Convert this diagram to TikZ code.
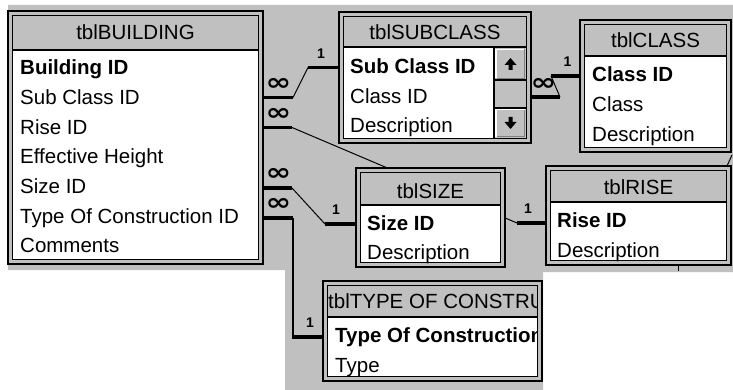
\documentclass[tikz,border=0pt]{standalone}
\usepackage{fontspec}
\setmainfont{Liberation Sans}
\newfontfamily\symfont{DejaVu Sans}
\usetikzlibrary{fit}
\definecolor{panelgray}{HTML}{C0C0C0}
\definecolor{shadegray}{HTML}{808080}

\tikzset{
  outerframe/.style={draw=black, line width=1.8pt, fill=panelgray, inner sep=0pt},
  innerframe/.style={draw=black, line width=1.4pt, fill=white},
  titlebar/.style={draw=black, line width=1.4pt, fill=panelgray},
  fieldtext/.style={anchor=base west, inner sep=0pt, font=\fontsize{20.5}{24}\selectfont},
  keytext/.style={anchor=base west, inner sep=0pt, font=\fontsize{20.5}{24}\selectfont\bfseries},
  titletext/.style={anchor=base, inner sep=0pt, font=\fontsize{20.5}{24}\selectfont},
  manyend/.style={inner sep=0pt, font=\symfont\bfseries\fontsize{28}{28}\selectfont, xscale=1.1, yscale=0.85},
  oneend/.style={inner sep=0pt, font=\bfseries\fontsize{14}{14}\selectfont},
  stub/.style={line width=3.6pt},
  link/.style={line width=1pt},
  btnlight/.style={draw=white, line width=1.2pt},
  btndark/.style={draw=shadegray, line width=1.2pt},
}

% table frame: name, left, top, right, bottom, bottom of the title bar
\newcommand\tablebox[6]{%
  \node[outerframe, fit={(#2,#3) (#4,#5)}] (#1) {};
  \draw[innerframe] (#2+4.5,#3+4.5) rectangle (#4-4.5,#5-4.5);
  \draw[titlebar] (#2+4.5,#3+4.5) rectangle (#4-4.5,#6);
}

\begin{document}
\begin{tikzpicture}[x=1pt,y=-1pt]
\useasboundingbox (0,0) rectangle (733,390);
\fill[white] (0,0) rectangle (733,390);
% workspace background
\fill[panelgray] (8,5) -- (733,5) -- (733,272) -- (543,272) -- (543,390)
  -- (285,390) -- (285,270) -- (8,270) -- cycle;

% connector bend points
\coordinate (k1) at (293,97.5);  \coordinate (k2) at (308,67.5);
\coordinate (k3) at (292,127.5); \coordinate (k4) at (517,223);
\coordinate (k5) at (292,188);   \coordinate (k6) at (325,224);
\coordinate (k7) at (293,218);   \coordinate (k8) at (293,337);
\coordinate (k9) at (560,97);    \coordinate (k10) at (551,76);
\coordinate (x1) at (727,166);   \coordinate (x2) at (732,155);
\coordinate (x3) at (678,265);   \coordinate (x4) at (678,271);

% thin links run underneath the tables
\draw[link] (k3) -- (k4);
\draw[link] (x1) -- (x2);
\draw[link] (x3) -- (x4);

% tables
\tablebox{bld}{8}{11}{263}{264}{50}
\node[titletext] (bld-t) at (135.5,40) {tblBUILDING};
\node[keytext]   (bld-r1) at (20,75)    {Building ID};
\node[fieldtext] (bld-r2) at (20,104.6) {Sub Class ID};
\node[fieldtext] (bld-r3) at (20,134.2) {Rise ID};
\node[fieldtext] (bld-r4) at (20,163.8) {Effective Height};
\node[fieldtext] (bld-r5) at (20,193.4) {Size ID};
\node[fieldtext] (bld-r6) at (20,223)   {Type Of Construction ID};
\node[fieldtext] (bld-r7) at (20,252.6) {Comments};

\tablebox{sub}{339}{12}{531}{143}{47}
\node[titletext] (sub-t) at (435,40) {tblSUBCLASS};
\node[keytext]   (sub-r1) at (350,74)  {Sub Class ID};
\node[fieldtext] (sub-r2) at (350,104) {Class ID};
\node[fieldtext] (sub-r3) at (350,133) {Description};
% scroll bar
\fill[panelgray] (494,47.7) rectangle (526,138.3);
\draw[line width=1.2pt] (494,47.7) -- (494,138.3);
\draw[line width=1.2pt] (494,80) -- (526,80);
\draw[line width=1.2pt] (494,108) -- (526,108);
\draw[btnlight] (496,78) -- (496,49.5) -- (524.5,49.5);
\draw[btndark] (496.5,78.3) -- (524.5,78.3) -- (524.5,49.5);
\draw[btnlight] (496,137) -- (496,109.7) -- (524.5,109.7);
\draw[btndark] (496.5,136.8) -- (524.5,136.8) -- (524.5,109.7);
\fill (504.5,65) -- (510.5,58) -- (516.5,65) -- (512.5,65) -- (512.5,70)
  -- (508.5,70) -- (508.5,65) -- cycle;
\fill (504.5,122) -- (510.5,129) -- (516.5,122) -- (512.5,122) -- (512.5,117)
  -- (508.5,117) -- (508.5,122) -- cycle;

\tablebox{cls}{580}{20}{731}{152}{56}
\node[titletext] (cls-t) at (655.5,48) {tblCLASS};
\node[keytext]   (cls-r1) at (592,82)  {Class ID};
\node[fieldtext] (cls-r2) at (592,112) {Class};
\node[fieldtext] (cls-r3) at (592,142) {Description};

\tablebox{siz}{356}{168}{505}{267}{205}
\node[titletext] (siz-t) at (430.5,198) {tblSIZE};
\node[keytext]   (siz-r1) at (367,230) {Size ID};
\node[fieldtext] (siz-r2) at (367,259) {Description};

\tablebox{ris}{546}{166}{731}{265}{202}
\node[titletext] (ris-t) at (638.5,195) {tblRISE};
\node[keytext]   (ris-r1) at (557,227) {Rise ID};
\node[fieldtext] (ris-r2) at (557,257) {Description};

\tablebox{typ}{323}{281}{542}{381}{317}
\begin{scope}
  \clip (327.5,285.5) rectangle (537.5,376.5);
  \node[fieldtext] (typ-t) at (328,308) {tblTYPE OF CONSTRUCTION};
  \node[keytext]   (typ-r1) at (335,342) {Type Of Construction ID};
  \node[fieldtext] (typ-r2) at (335,372) {Type};
\end{scope}

% relationship lines
\draw[stub] (bld.east |- k1) -- (k1);
\draw[link] (k1) -- (k2);
\draw[stub] (k2) -- (k2 -| sub.west);

\draw[stub] (bld.east |- k3) -- (k3);
\draw[stub] (k4) -- (k4 -| ris.west);

\draw[stub] (bld.east |- k5) -- (k5);
\draw[link] (k5) -- (k6);
\draw[stub] (k6) -- (k6 -| siz.west);

\draw[stub] (bld.east |- k7) -- (k7);
\draw[line width=1.6pt] (k7) -- (k8);
\draw[stub] ([xshift=-0.8pt]k8) -- (k8 -| typ.west);

\draw[stub] (sub.east |- k9) -- (k9);
\draw[link] (k9) -- (k10);
\draw[stub] (k10) -- (k10 -| cls.west);

% cardinality labels
\node[manyend] (m1) at (278.5,84)  {∞};
\node[manyend] (m2) at (278.5,114) {∞};
\node[manyend] (m3) at (278.5,174) {∞};
\node[manyend] (m4) at (278.5,204) {∞};
\node[manyend] (m5) at (543.5,84.5) {∞};
\node[oneend] (o1) at (321,54)  {1};
\node[oneend] (o2) at (528,209) {1};
\node[oneend] (o3) at (336,210) {1};
\node[oneend] (o4) at (310,323) {1};
\node[oneend] (o5) at (567.5,62) {1};
\end{tikzpicture}
\end{document}
